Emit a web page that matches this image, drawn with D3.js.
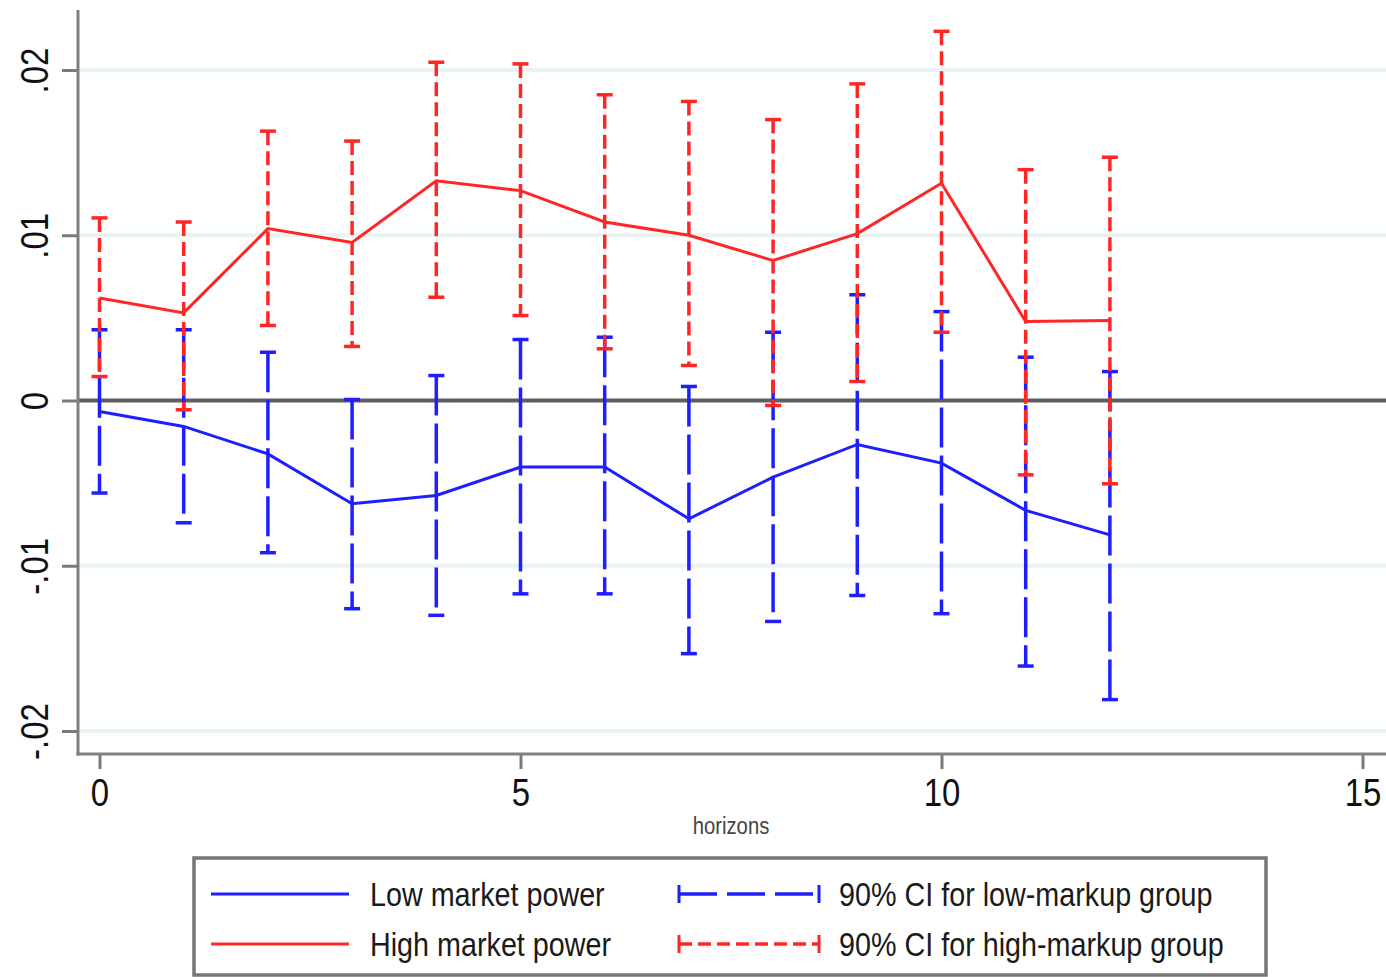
<!DOCTYPE html>
<html>
<head>
<meta charset="utf-8">
<script src="https://cdn.jsdelivr.net/npm/d3@7"></script>
<style>
  body { margin: 0; background: #fff; }
  svg { display: block; }
  text { font-family: "Liberation Sans", Arial, sans-serif; }
</style>
</head>
<body>
<script>
// horizons and estimates
var horizons = [0, 1, 2, 3, 4, 5, 6, 7, 8, 9, 10, 11, 12];

var lowPoint = [-0.00067, -0.00157, -0.00323, -0.00625, -0.00575, -0.00403, -0.00403,
                -0.00716, -0.00464, -0.00266, -0.00379, -0.00665, -0.00813];
var lowUpper = [0.00428, 0.00428, 0.00292, 0.00006, 0.00151, 0.00369, 0.00383,
                0.00085, 0.00413, 0.0064, 0.00538, 0.00262, 0.00175];
var lowLower = [-0.0056, -0.0074, -0.00921, -0.0126, -0.0130, -0.0117, -0.0117,
                -0.01532, -0.01337, -0.0118, -0.0129, -0.01607, -0.0181];

var highPoint = [0.0062, 0.0053, 0.0104, 0.00957, 0.0133, 0.0127, 0.0108,
                 0.0100, 0.00847, 0.0101, 0.01315, 0.00478, 0.00484];
var highUpper = [0.01105, 0.0108, 0.0163, 0.0157, 0.02047, 0.02037, 0.0185,
                 0.0181, 0.0170, 0.01916, 0.02234, 0.01397, 0.01472];
var highLower = [0.00145, -0.00056, 0.00454, 0.00327, 0.00625, 0.00514, 0.00313,
                 0.00212, -0.0003, 0.00115, 0.00413, -0.0045, -0.00504];

var xTicks = [0, 5, 10, 15];
var yTicks = [-0.02, -0.01, 0, 0.01, 0.02];
var yTickLabels = ["-.02", "-.01", "0", ".01", ".02"];
var legendLabels = ["Low market power", "High market power",
                    "90% CI for low-markup group", "90% CI for high-markup group"];

var blue = "#1e1eff", red = "#ff2626";
var narrow = 0.845;   // the original lettering is horizontally condensed

var W = 1386, H = 977;
var plot = {left: 78, top: 10, right: 1386, bottom: 754};

var svg = d3.select("body").append("svg")
    .attr("width", W)
    .attr("height", H);

// scales
var x = d3.scaleLinear().domain([0, 15]).range([99.5, 1362.5]);
var y = d3.scaleLinear().domain([-0.02, 0.02]).range([731, 70]);

// grid lines
svg.append("g")
  .selectAll("line")
  .data(yTicks.filter(function(d) { return d !== 0; }))
  .enter().append("line")
    .attr("x1", plot.left).attr("x2", plot.right)
    .attr("y1", function(d) { return y(d); })
    .attr("y2", function(d) { return y(d); })
    .attr("stroke", "#eaf3f3")
    .attr("stroke-width", 4);

// zero line
svg.append("line")
    .attr("x1", plot.left).attr("x2", plot.right)
    .attr("y1", y(0)).attr("y2", y(0))
    .attr("stroke", "#5e5e5e")
    .attr("stroke-width", 4);

// y axis
var yAxis = svg.append("g")
    .attr("transform", "translate(" + plot.left + ",0)")
    .call(d3.axisLeft(y)
      .tickValues(yTicks)
      .tickSize(16)
      .tickFormat(function(d, i) { return yTickLabels[i]; }));
yAxis.select(".domain").remove();
yAxis.selectAll(".tick line").attr("stroke", "#7a7a7a").attr("stroke-width", 3);
yAxis.selectAll(".tick text")
    .attr("transform", "rotate(-90) scale(" + narrow + ",1)")
    .attr("x", 0)
    .attr("y", -30)
    .attr("dy", 0)
    .attr("text-anchor", "middle")
    .attr("fill", "#111")
    .style("font-size", "39px");

// x axis
var xAxis = svg.append("g")
    .attr("transform", "translate(0," + plot.bottom + ")")
    .call(d3.axisBottom(x)
      .tickValues(xTicks)
      .tickSize(15)
      .tickPadding(9)
      .tickFormat(d3.format("d")));
xAxis.select(".domain").remove();
xAxis.selectAll(".tick line").attr("stroke", "#7a7a7a").attr("stroke-width", 3);
xAxis.selectAll(".tick text")
    .attr("transform", "scale(" + narrow + ",1)")
    .attr("fill", "#111")
    .style("font-size", "39px");

// axis lines
svg.append("line")
    .attr("x1", plot.left).attr("x2", plot.left)
    .attr("y1", plot.top).attr("y2", plot.bottom + 1.5)
    .attr("stroke", "#808080").attr("stroke-width", 3);
svg.append("line")
    .attr("x1", plot.left - 1.5).attr("x2", plot.right)
    .attr("y1", plot.bottom).attr("y2", plot.bottom)
    .attr("stroke", "#808080").attr("stroke-width", 3);

// x axis title
svg.append("text")
    .attr("transform", "translate(731,834) scale(" + narrow + ",1)")
    .attr("text-anchor", "middle")
    .attr("fill", "#444")
    .style("font-size", "24px")
    .text("horizons");

// confidence intervals
function drawCI(upper, lower, color, dash) {
  var g = svg.append("g");
  var data = horizons.map(function(h, i) { return {h: h, hi: upper[i], lo: lower[i]}; });
  g.selectAll("line.bar")
    .data(data)
    .enter().append("line")
      .attr("class", "bar")
      .attr("x1", function(d) { return x(d.h); })
      .attr("x2", function(d) { return x(d.h); })
      .attr("y1", function(d) { return y(d.hi); })
      .attr("y2", function(d) { return y(d.lo); })
      .attr("stroke", color)
      .attr("stroke-width", 3.5)
      .attr("stroke-dasharray", dash);
  ["hi", "lo"].forEach(function(k) {
    g.selectAll("line.cap-" + k)
      .data(data)
      .enter().append("line")
        .attr("class", "cap-" + k)
        .attr("x1", function(d) { return x(d.h) - 8; })
        .attr("x2", function(d) { return x(d.h) + 8; })
        .attr("y1", function(d) { return y(d[k]); })
        .attr("y2", function(d) { return y(d[k]); })
        .attr("stroke", color)
        .attr("stroke-width", 3.5);
  });
}

drawCI(lowUpper, lowLower, blue, "40,8");
drawCI(highUpper, highLower, red, "14,6");

// point estimate lines
var line = d3.line()
    .x(function(d) { return x(d[0]); })
    .y(function(d) { return y(d[1]); });

svg.append("path")
    .datum(horizons.map(function(h, i) { return [h, lowPoint[i]]; }))
    .attr("d", line)
    .attr("fill", "none")
    .attr("stroke", blue)
    .attr("stroke-width", 3);

svg.append("path")
    .datum(horizons.map(function(h, i) { return [h, highPoint[i]]; }))
    .attr("d", line)
    .attr("fill", "none")
    .attr("stroke", red)
    .attr("stroke-width", 3);

// legend
var legend = svg.append("g");
legend.append("rect")
    .attr("x", 194).attr("y", 858)
    .attr("width", 1072).attr("height", 117)
    .attr("fill", "#fff")
    .attr("stroke", "#767676")
    .attr("stroke-width", 3.5);

var rows = [894, 944];
var legendItems = [
  {label: legendLabels[0], color: blue, col: 0, row: 0, dash: null},
  {label: legendLabels[1], color: red, col: 0, row: 1, dash: null},
  {label: legendLabels[2], color: blue, col: 1, row: 0, dash: "38,10"},
  {label: legendLabels[3], color: red, col: 1, row: 1, dash: "13,6"}
];
var cols = [{x1: 211, x2: 349, tx: 370}, {x1: 679, x2: 819, tx: 839}];

legendItems.forEach(function(it) {
  var c = cols[it.col], yy = rows[it.row];
  legend.append("line")
      .attr("x1", c.x1).attr("x2", c.x2)
      .attr("y1", yy).attr("y2", yy)
      .attr("stroke", it.color)
      .attr("stroke-width", it.dash ? 3.5 : 3)
      .attr("stroke-dasharray", it.dash);
  if (it.dash) {
    [c.x1, c.x2].forEach(function(xx) {
      legend.append("line")
          .attr("x1", xx).attr("x2", xx)
          .attr("y1", yy - 9).attr("y2", yy + 9)
          .attr("stroke", it.color)
          .attr("stroke-width", 3);
    });
  }
  legend.append("text")
      .attr("transform", "translate(" + c.tx + "," + (yy + 12) + ") scale(" + narrow + ",1)")
      .attr("fill", "#1a1a1a")
      .style("font-size", "34px")
      .text(it.label);
});
</script>
</body>
</html>
